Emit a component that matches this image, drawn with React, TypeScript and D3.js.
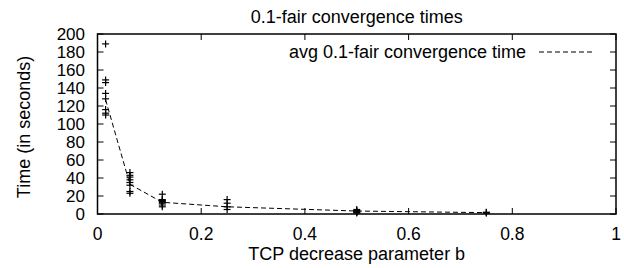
import React, { useEffect, useRef } from 'react';
import * as d3 from 'd3';

// TCP decrease parameter b for each run group
const bValues = [1 / 64, 1 / 16, 1 / 8, 1 / 4, 1 / 2, 3 / 4];

// individual 0.1-fair convergence times (seconds) per b
const runTimes = [
    [189, 149, 146, 134, 128, 116, 112, 110],
    [46, 43, 41, 38, 35, 32, 25, 23],
    [22, 16, 15, 14, 13, 12, 10, 8],
    [16, 12, 8, 5],
    [5, 4, 3, 2, 2, 1],
    [2, 1.5, 1],
];

// average convergence time per b
const avgTimes = [127, 33, 13, 8, 3.3, 1.5];

const xTicks = [0, 0.2, 0.4, 0.6, 0.8, 1];
const yTicks = [0, 20, 40, 60, 80, 100, 120, 140, 160, 180, 200];

const W = 624;
const H = 268;
const FONT = 'Liberation Sans, Arial, Helvetica, sans-serif';

const App: React.FC = () => {
    const svgRef = useRef<SVGSVGElement | null>(null);

    useEffect(() => {
        if (svgRef.current) drawChart();
    }, []);

    const drawChart = () => {
        const svg = d3.select(svgRef.current);
        svg.selectAll('*').remove();

        const left = 97.5;
        const right = 616;
        const top = 34;
        const bottom = 214;

        const x = d3.scaleLinear().domain([0, 1]).range([left, right]);
        const y = d3.scaleLinear().domain([0, 200]).range([bottom, top]);

        svg.append('rect')
            .attr('width', W)
            .attr('height', H)
            .attr('fill', '#fff');

        // ticks (gnuplot style, inward, mirrored)
        const tickLen = 6;
        const tg = svg.append('g').attr('stroke', '#000').attr('stroke-width', 1);
        xTicks.forEach((t) => {
            tg.append('line')
                .attr('x1', x(t)).attr('x2', x(t))
                .attr('y1', bottom).attr('y2', bottom - tickLen);
            tg.append('line')
                .attr('x1', x(t)).attr('x2', x(t))
                .attr('y1', top).attr('y2', top + tickLen);
        });
        yTicks.forEach((t) => {
            tg.append('line')
                .attr('x1', left).attr('x2', left + tickLen)
                .attr('y1', y(t)).attr('y2', y(t));
            tg.append('line')
                .attr('x1', right).attr('x2', right - tickLen)
                .attr('y1', y(t)).attr('y2', y(t));
        });

        // tick labels
        svg.append('g')
            .selectAll('text')
            .data(xTicks)
            .enter()
            .append('text')
            .attr('x', (d) => x(d))
            .attr('y', 240)
            .attr('text-anchor', 'middle')
            .style('font-family', FONT)
            .style('font-size', '17.5px')
            .text((d) => d3.format('~g')(d));

        svg.append('g')
            .selectAll('text')
            .data(yTicks)
            .enter()
            .append('text')
            .attr('x', 85)
            .attr('y', (d) => y(d))
            .attr('dy', '0.35em')
            .attr('text-anchor', 'end')
            .style('font-family', FONT)
            .style('font-size', '17px')
            .text((d) => d);

        // average line
        const line = d3
            .line<number>()
            .x((_, i) => x(bValues[i]))
            .y((d) => y(d));

        svg.append('path')
            .datum(avgTimes)
            .attr('d', line)
            .attr('fill', 'none')
            .attr('stroke', '#000')
            .attr('stroke-width', 1)
            .attr('stroke-dasharray', '5,3');

        // individual runs as + marks
        const pts = runTimes.flatMap((vals, i) =>
            vals.map((v) => ({ b: bValues[i], t: v }))
        );
        const cs = 3.5;
        const pg = svg.append('g').attr('stroke', '#000').attr('stroke-width', 1.2);
        pts.forEach((p) => {
            const cx = x(p.b);
            const cy = y(p.t);
            pg.append('line')
                .attr('x1', cx - cs).attr('x2', cx + cs)
                .attr('y1', cy).attr('y2', cy);
            pg.append('line')
                .attr('x1', cx).attr('x2', cx)
                .attr('y1', cy - cs).attr('y2', cy + cs);
        });

        // frame
        svg.append('rect')
            .attr('x', left)
            .attr('y', top)
            .attr('width', right - left)
            .attr('height', bottom - top)
            .attr('fill', 'none')
            .attr('stroke', '#000')
            .attr('stroke-width', 1.5);

        // legend
        svg.append('text')
            .attr('x', 526)
            .attr('y', 52)
            .attr('dy', '0.35em')
            .attr('text-anchor', 'end')
            .style('font-family', FONT)
            .style('font-size', '18px')
            .text('avg 0.1-fair convergence time');
        svg.append('line')
            .attr('x1', 539)
            .attr('x2', 594)
            .attr('y1', 52)
            .attr('y2', 52)
            .attr('stroke', '#000')
            .attr('stroke-width', 1)
            .attr('stroke-dasharray', '5,3');

        // title and axis labels
        svg.append('text')
            .attr('x', (left + right) / 2)
            .attr('y', 22.5)
            .attr('text-anchor', 'middle')
            .style('font-family', FONT)
            .style('font-size', '18px')
            .text('0.1-fair convergence times');

        svg.append('text')
            .attr('x', (left + right) / 2)
            .attr('y', 260)
            .attr('text-anchor', 'middle')
            .style('font-family', FONT)
            .style('font-size', '18px')
            .text('TCP decrease parameter b');

        svg.append('text')
            .attr('transform', `translate(30, ${(top + bottom) / 2 + 3}) rotate(-90)`)
            .attr('text-anchor', 'middle')
            .style('font-family', FONT)
            .style('font-size', '18px')
            .text('Time (in seconds)');
    };

    return (
        <svg
            ref={svgRef}
            width={W}
            height={H}
            style={{ position: 'absolute', left: 0, top: 0 }}
        ></svg>
    );
};

export default App;
